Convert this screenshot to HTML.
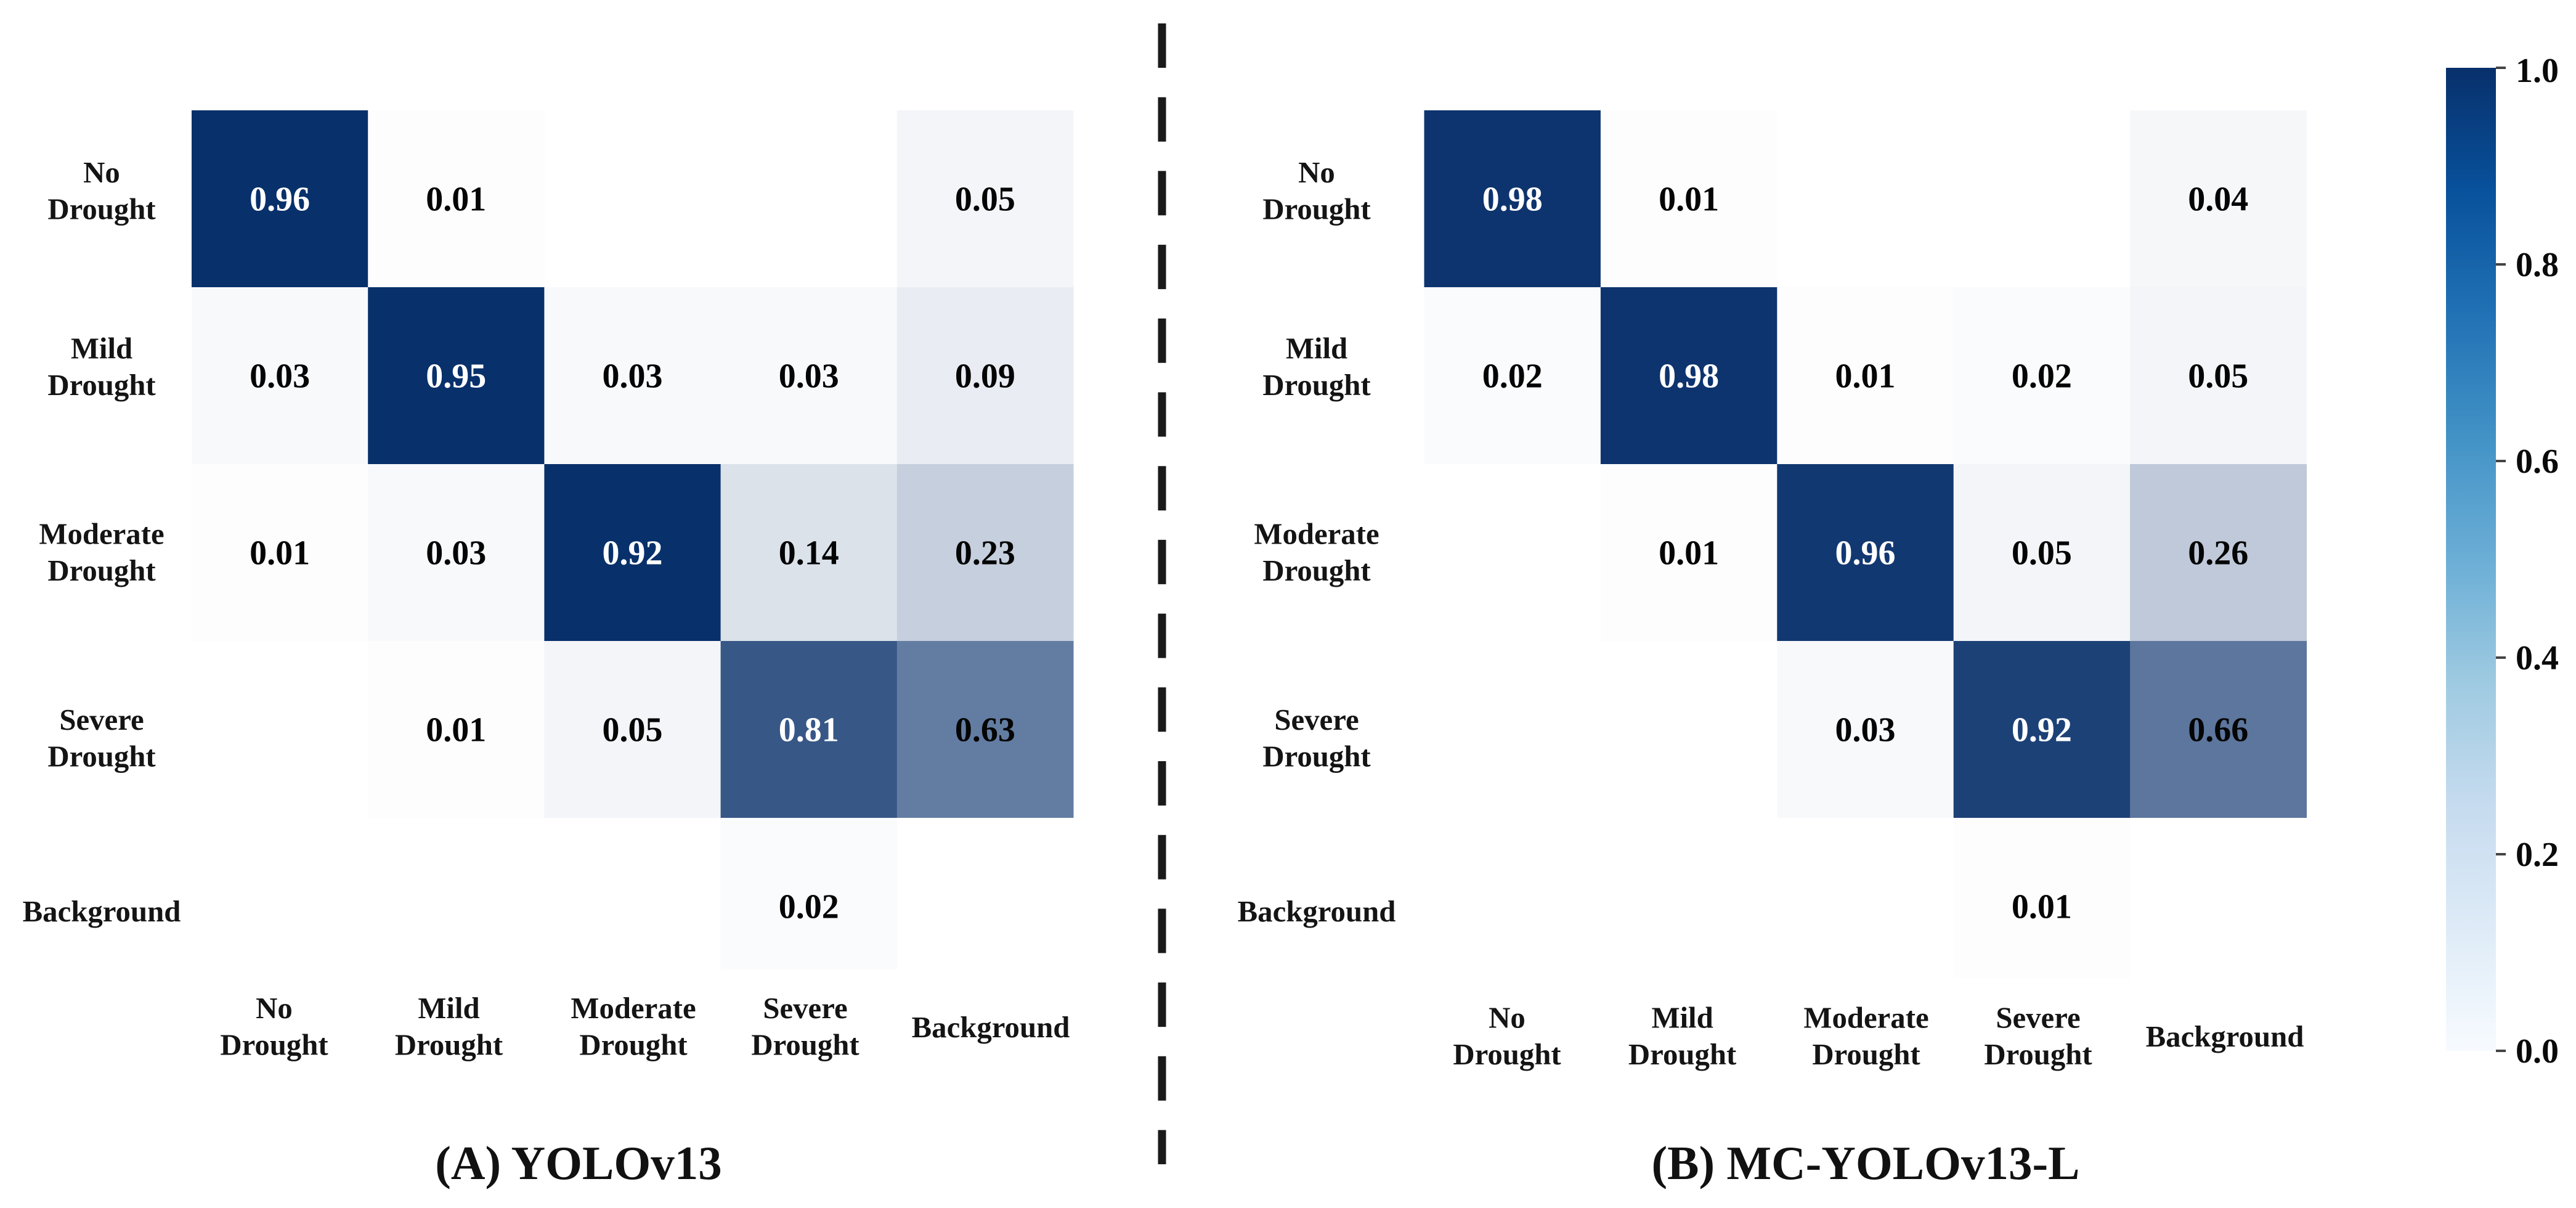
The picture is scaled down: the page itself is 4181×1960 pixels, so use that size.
<!DOCTYPE html>
<html lang="en">
<head>
<meta charset="utf-8">
<title>Confusion matrices: YOLOv13 vs MC-YOLOv13-L</title>
<style>
  html, body { margin: 0; padding: 0; background: #fff; }
  svg { display: block; }
  text { font-family: "Liberation Serif", serif; font-weight: bold; }
</style>
</head>
<body>
<svg id="chart" xmlns="http://www.w3.org/2000/svg" width="4181" height="1960" viewBox="0 0 4181 1960">
  <defs>
    <linearGradient id="blues" x1="0" y1="1" x2="0" y2="0">
      <stop offset="0" stop-color="#f7fbff"/>
      <stop offset="0.125" stop-color="#deebf7"/>
      <stop offset="0.25" stop-color="#c6dbef"/>
      <stop offset="0.375" stop-color="#9ecae1"/>
      <stop offset="0.5" stop-color="#6baed6"/>
      <stop offset="0.625" stop-color="#4292c6"/>
      <stop offset="0.75" stop-color="#2171b5"/>
      <stop offset="0.875" stop-color="#08519c"/>
      <stop offset="1" stop-color="#08306b"/>
    </linearGradient>
  </defs>
  <rect x="0" y="0" width="4181" height="1960" fill="#ffffff"/>
  <line x1="1886" y1="38" x2="1886" y2="1889" stroke="#1a1a1a" stroke-width="13" stroke-dasharray="72 47.7"/>
  <text x="939" y="1913" font-size="77" text-anchor="middle" fill="#111">(A) YOLOv13</text>
  <text x="3028" y="1913" font-size="77" text-anchor="middle" fill="#111">(B) MC-YOLOv13-L</text>
  <rect x="3970" y="110" width="81" height="1595" fill="url(#blues)"/>
  <g id="layer"></g>
</svg>
<script>
// Chart data
const categories = ["No Drought", "Mild Drought", "Moderate Drought", "Severe Drought", "Background"];
const matrixA = [
  [0.96, 0.01, null, null, 0.05],
  [0.03, 0.95, 0.03, 0.03, 0.09],
  [0.01, 0.03, 0.92, 0.14, 0.23],
  [null, 0.01, 0.05, 0.81, 0.63],
  [null, null, null, 0.02, null]
];
const matrixB = [
  [0.98, 0.01, null, null, 0.04],
  [0.02, 0.98, 0.01, 0.02, 0.05],
  [null, 0.01, 0.96, 0.05, 0.26],
  [null, null, 0.03, 0.92, 0.66],
  [null, null, null, 0.01, null]
];
const colorbarTicks = [0.0, 0.2, 0.4, 0.6, 0.8, 1.0];

// Layout
const panelA = {
  key: "a", matrix: matrixA, left: 311, top: 179, cellW: 286.2, cellH: 287, clipBottom: 1573,
  base: [8, 48, 107], saturateAt: 0.9,
  rowLabelX: 165, colLabelX: [445, 728.5, 1028, 1307, 1608], colLabelY: 1652, colSingleY: 1683
};
const panelB = {
  key: "b", matrix: matrixB, left: 2311.5, top: 179, cellW: 286.4, cellH: 287, clipBottom: 1587,
  base: [8, 48, 107], saturateAt: 2,
  rowLabelX: 2137, colLabelX: [2446, 2730.6, 3029, 3308, 3611], colLabelY: 1667.5, colSingleY: 1698
};
const rowBaselines = [296, 581.5, 882.5, 1184];
const rowSingleBaseline = 1495;
const LINE_GAP = 59.5;
const AXIS_FONT = 48.8;

const layer = document.getElementById("layer");
const NS = "http://www.w3.org/2000/svg";

function make(tag, attrs, text) {
  const el = document.createElementNS(NS, tag);
  for (const k in attrs) el.setAttribute(k, attrs[k]);
  if (text !== undefined) el.textContent = text;
  layer.appendChild(el);
  return el;
}

function xScale(panel, col) { return panel.left + col * panel.cellW; }
function yScale(panel, row) { return panel.top + row * panel.cellH; }
function cbScale(v) { return 1705 - v * 1595; }

function cellColor(panel, v) {
  const a = v >= panel.saturateAt ? 1 : Math.min(1, v);
  const c = panel.base.map(function (b) { return Math.round(255 - (255 - b) * a); });
  return "rgb(" + c.join(",") + ")";
}

function drawPanel(panel) {
  panel.matrix.forEach(function (rowVals, r) {
    rowVals.forEach(function (v, c) {
      if (v === null) return;
      const x = xScale(panel, c);
      const y = yScale(panel, r);
      const bottom = Math.min(y + panel.cellH, panel.clipBottom);
      const rect = make("rect", { x: x, y: y, width: panel.cellW + 0.5, height: bottom - y, fill: cellColor(panel, v) });
      
      
    });
  });
  panel.matrix.forEach(function (rowVals, r) {
    rowVals.forEach(function (v, c) {
      if (v === null) return;
      const cx = xScale(panel, c) + panel.cellW / 2;
      const cy = yScale(panel, r) + panel.cellH / 2;
      const label = make("text", {
        x: cx, y: cy + 19, "font-size": 56, "text-anchor": "middle",
        fill: v > 0.7 ? "#ffffff" : "#050505"
      }, v.toFixed(2));
      
      
    });
  });
  categories.forEach(function (cat, i) {
    const words = cat.split(" ");
    const baseY = i < rowBaselines.length ? rowBaselines[i] : rowSingleBaseline;
    words.forEach(function (w, j) {
      const t = make("text", {
        x: panel.rowLabelX, y: baseY + j * LINE_GAP, "font-size": AXIS_FONT, "text-anchor": "middle", fill: "#141414"
      }, w);
      
      
    });
    words.forEach(function (w, j) {
      const y = words.length === 1 ? panel.colSingleY : panel.colLabelY + j * LINE_GAP;
      const t = make("text", {
        x: panel.colLabelX[i], y: y, "font-size": AXIS_FONT, "text-anchor": "middle", fill: "#141414"
      }, w);
      
      
    });
  });
}

drawPanel(panelA);
drawPanel(panelB);

colorbarTicks.forEach(function (v) {
  const y = cbScale(v);
  const tick = make("line", { x1: 4051, x2: 4067, y1: y, y2: y, stroke: "#444", "stroke-width": 4 });
  
  
  const label = make("text", { x: 4083, y: Math.max(y + 19, 133), "font-size": 56, fill: "#0a0a0a" }, v.toFixed(1));
  
  
});
</script>
</body>
</html>
